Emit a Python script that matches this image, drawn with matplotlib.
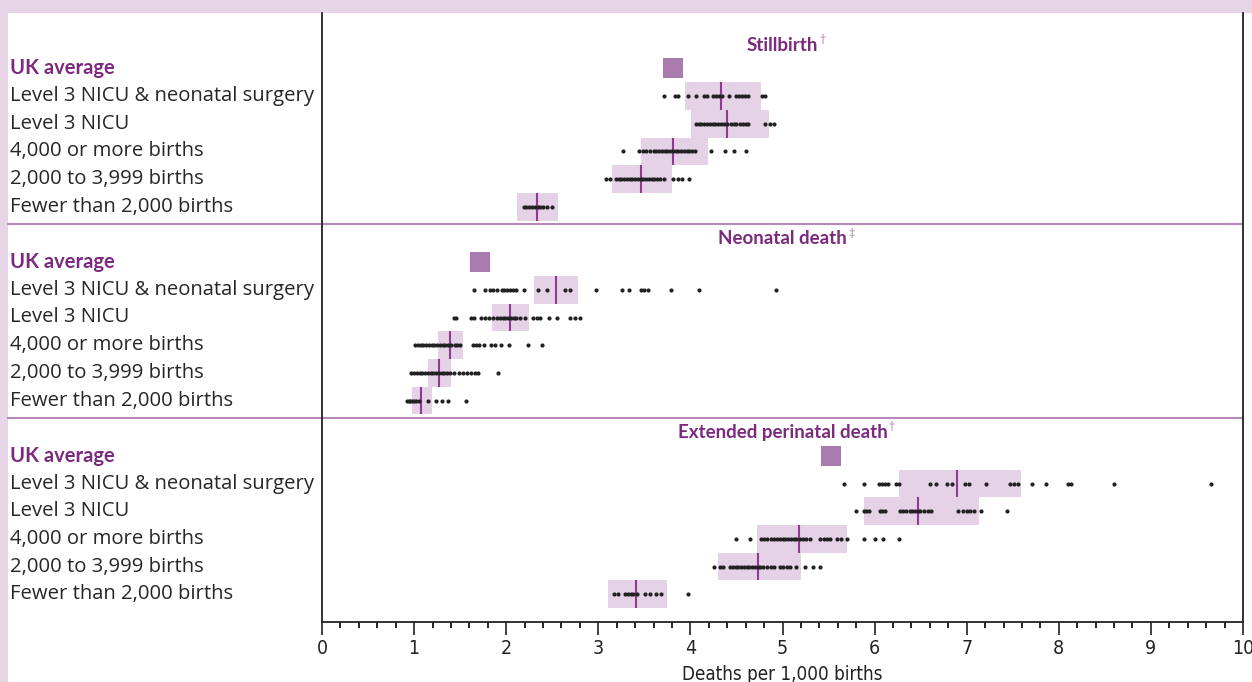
import numpy as np
import matplotlib.pyplot as plt
from matplotlib.patches import Rectangle
from matplotlib.lines import Line2D
import matplotlib.transforms as mtransforms

# row labels, same in every panel
groups = ["Level 3 NICU & neonatal surgery", "Level 3 NICU", "4,000 or more births",
          "2,000 to 3,999 births", "Fewer than 2,000 births"]
panel_titles = ["Stillbirth", "Neonatal death", "Extended perinatal death"]
panel_marks = ["\u2020", "\u2021", "\u2020"]
uk_average = [3.81, 1.72, 5.53]

# stillbirth
still_low = [3.94, 4.01, 3.46, 3.15, 2.12]
still_high = [4.77, 4.85, 4.19, 3.80, 2.56]
still_mid = [4.33, 4.40, 3.81, 3.46, 2.33]
still_dots = [
    [3.71, 3.83, 3.86, 3.97, 4.06, 4.15, 4.18, 4.25, 4.28, 4.31, 4.34, 4.42, 4.50, 4.53, 4.56, 4.59, 4.63, 4.78, 4.81],
    [4.06, 4.09, 4.12, 4.15, 4.18, 4.21, 4.24, 4.27, 4.30, 4.33, 4.36, 4.40, 4.44, 4.47, 4.50, 4.54, 4.57, 4.60, 4.63,
     4.81, 4.86, 4.91],
    [3.27, 3.44, 3.48, 3.52, 3.56, 3.60, 3.63, 3.66, 3.69, 3.72, 3.75, 3.78, 3.81, 3.84, 3.87, 3.90, 3.93, 3.96, 3.99,
     4.02, 4.05, 4.22, 4.38, 4.47, 4.60],
    [3.08, 3.13, 3.19, 3.22, 3.25, 3.28, 3.31, 3.34, 3.37, 3.40, 3.43, 3.46, 3.49, 3.52, 3.55, 3.58, 3.61, 3.64, 3.67,
     3.71, 3.81, 3.86, 3.91, 3.99],
    [2.19, 2.22, 2.25, 2.28, 2.31, 2.34, 2.37, 2.40, 2.44, 2.50],
]

# neonatal death
neo_low = [2.30, 1.85, 1.26, 1.15, 0.98]
neo_high = [2.78, 2.25, 1.53, 1.40, 1.19]
neo_mid = [2.54, 2.04, 1.39, 1.27, 1.07]
neo_dots = [
    [1.65, 1.77, 1.82, 1.86, 1.90, 1.95, 1.98, 2.01, 2.04, 2.07, 2.11, 2.19, 2.35, 2.44, 2.64, 2.69, 2.97, 3.26, 3.33,
     3.46, 3.50, 3.54, 3.79, 4.09, 4.93],
    [1.43, 1.46, 1.62, 1.65, 1.73, 1.77, 1.81, 1.86, 1.90, 1.93, 1.96, 1.99, 2.02, 2.05, 2.08, 2.11, 2.15, 2.20, 2.29,
     2.33, 2.37, 2.46, 2.55, 2.69, 2.75, 2.80],
    [1.01, 1.04, 1.07, 1.10, 1.13, 1.16, 1.19, 1.22, 1.25, 1.28, 1.31, 1.34, 1.37, 1.40, 1.44, 1.47, 1.50, 1.64, 1.67,
     1.70, 1.76, 1.83, 1.88, 1.94, 2.03, 2.24, 2.39],
    [0.97, 1.00, 1.03, 1.06, 1.09, 1.12, 1.15, 1.18, 1.21, 1.24, 1.27, 1.30, 1.33, 1.36, 1.39, 1.43, 1.49, 1.53, 1.57,
     1.62, 1.66, 1.69, 1.91],
    [0.92, 0.94, 0.96, 0.98, 1.00, 1.02, 1.05, 1.15, 1.24, 1.30, 1.37, 1.56],
]

# extended perinatal death
ext_low = [6.27, 5.88, 4.72, 4.30, 3.10]
ext_high = [7.59, 7.13, 5.70, 5.20, 3.75]
ext_mid = [6.89, 6.47, 5.18, 4.73, 3.41]
ext_dots = [
    [5.67, 5.88, 6.05, 6.08, 6.11, 6.15, 6.23, 6.27, 6.60, 6.67, 6.79, 6.84, 6.98, 7.02, 7.21, 7.47, 7.51, 7.56, 7.71,
     7.86, 8.10, 8.13, 8.60, 9.65],
    [5.80, 5.88, 5.91, 5.94, 6.06, 6.08, 6.11, 6.28, 6.31, 6.34, 6.38, 6.41, 6.44, 6.47, 6.49, 6.54, 6.58, 6.61, 6.91,
     6.96, 7.00, 7.04, 7.08, 7.15, 7.44],
    [4.50, 4.65, 4.77, 4.80, 4.83, 4.88, 4.91, 4.94, 4.97, 5.00, 5.03, 5.06, 5.09, 5.12, 5.15, 5.19, 5.22, 5.26, 5.30,
     5.41, 5.45, 5.48, 5.52, 5.59, 5.63, 5.70, 5.88, 6.00, 6.09, 6.27],
    [4.26, 4.32, 4.35, 4.43, 4.46, 4.49, 4.52, 4.55, 4.58, 4.61, 4.64, 4.67, 4.70, 4.73, 4.76, 4.79, 4.83, 4.87, 4.91,
     4.97, 5.01, 5.05, 5.08, 5.15, 5.24, 5.33, 5.41],
    [3.17, 3.21, 3.29, 3.32, 3.35, 3.38, 3.42, 3.51, 3.56, 3.63, 3.68, 3.97],
]

BG = "#e6d4e7"
BOX = "#e5d2e6"
MED = "#8e3a91"
UKSQ = "#a97bae"
TITLE = "#7b2a7e"
SEP = "#b58ab8"
LABEL_FONT = ["Open Sans", "DejaVu Sans"]
BOLD_FONT = ["Lato", "DejaVu Sans"]
AXIS_FONT = ["DejaVu Sans"]


def draw_panel(ax, base, k, low, high, mid, dots):
    rows = [base + 3 + i for i in range(len(groups))]
    ax.barh(rows, np.array(high) - np.array(low), left=low, height=1.0, color=BOX, zorder=1)
    ax.vlines(mid, np.array(rows) - 0.5, np.array(rows) + 0.5, color=MED, lw=1.5, zorder=2)
    for r, d in zip(rows, dots):
        ax.scatter(d, [r] * len(d), s=9, color="#222222", zorder=3, linewidths=0)
    ax.scatter([uk_average[k]], [base + 2], marker="s", s=215, color=UKSQ, zorder=3, linewidths=0)

    t = ax.text(5, base + 1.16, panel_titles[k], ha="center", va="center", fontsize=13.5,
                fontweight="bold", color=TITLE, family=BOLD_FONT)
    ax.annotate(panel_marks[k], xy=(1, 1), xycoords=t, xytext=(1, 2), textcoords="offset points",
                ha="left", va="top", fontsize=9, color="#b07fb5", family=LABEL_FONT)

    lab = mtransforms.blended_transform_factory(ax.figure.transFigure, ax.transData)
    ax.text(10 / 1252, base + 2, "UK average", transform=lab, ha="left", va="center", fontsize=14.5,
            fontweight="bold", color=TITLE, family=BOLD_FONT)
    for r, g in zip(rows, groups):
        ax.text(10 / 1252, r, g, transform=lab, ha="left", va="center", fontsize=14.6,
                color="#262626", family=LABEL_FONT)
    if base > 0:
        ax.add_artist(Line2D([8 / 1252, 1243 / 1252], [base + 0.62, base + 0.62], transform=lab,
                             color=SEP, lw=1.5, clip_on=False))


fig = plt.figure(figsize=(12.52, 6.82), dpi=100, facecolor=BG)
fig.patches.append(Rectangle((8 / 1252, 0), 1, 669 / 682, transform=fig.transFigure,
                             facecolor="white", edgecolor="none", zorder=-5))
ax = fig.add_axes([322 / 1252, 60 / 682, 921 / 1252, 609 / 682])
ax.set_zorder(2)
ax.patch.set_alpha(0)

draw_panel(ax, 0, 0, still_low, still_high, still_mid, still_dots)
draw_panel(ax, 7, 1, neo_low, neo_high, neo_mid, neo_dots)
draw_panel(ax, 14, 2, ext_low, ext_high, ext_mid, ext_dots)

ax.set_xlim(0, 10)
ax.set_ylim(22, 0)
ax.set_yticks([])
ax.spines["top"].set_visible(False)
for s in ["left", "right", "bottom"]:
    ax.spines[s].set_linewidth(1.3)
    ax.spines[s].set_color("#222222")

ax.set_xticks(range(0, 11))
ax.set_xticks(np.arange(0, 10.01, 0.2), minor=True)
ax.tick_params(axis="x", which="major", length=9, width=1.2, pad=3, colors="#222222")
ax.tick_params(axis="x", which="minor", length=4.5, width=1.2)
for lbl in ax.get_xticklabels():
    lbl.set_family(AXIS_FONT)
    lbl.set_fontstretch("condensed")
    lbl.set_fontsize(14)
ax.set_xlabel("Deaths per 1,000 births", fontsize=13.5, family=AXIS_FONT, fontstretch="condensed",
              labelpad=5, color="#222222")

fig.savefig("out.png", dpi=100, facecolor=BG)
